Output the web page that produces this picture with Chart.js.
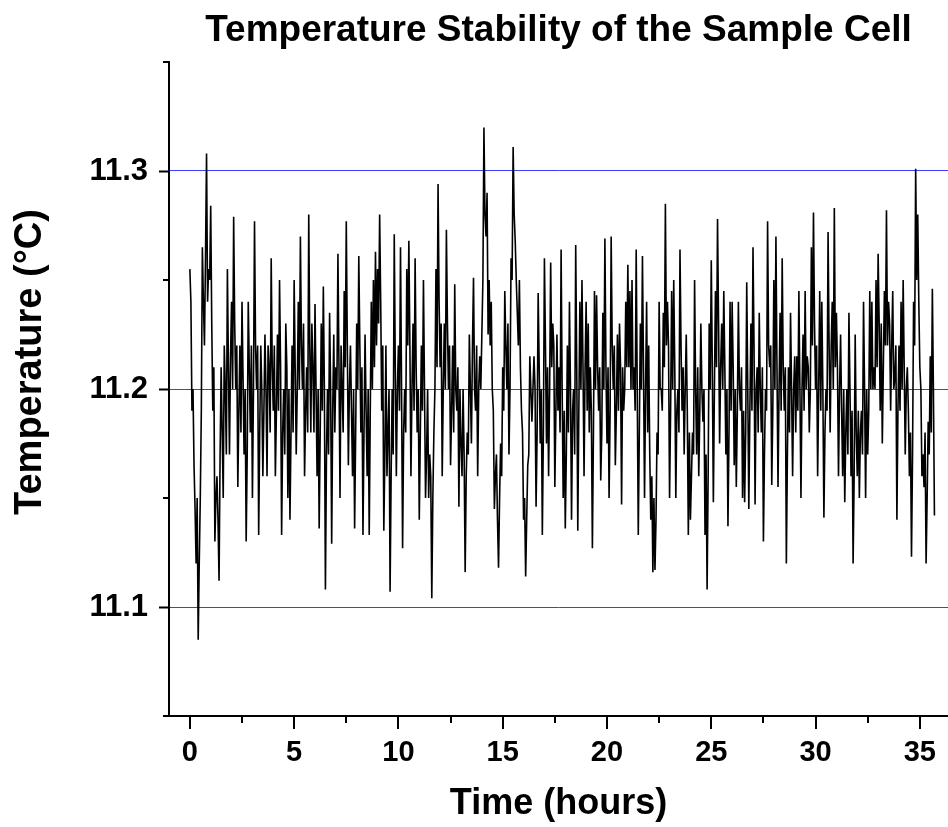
<!DOCTYPE html>
<html>
<head>
<meta charset="utf-8">
<script src="https://cdn.jsdelivr.net/npm/chart.js@4/dist/chart.umd.min.js"></script>
<style>
  html, body { margin: 0; padding: 0; background: #ffffff; }
  #wrap { width: 948px; height: 827px; }
</style>
</head>
<body>
<div id="wrap"><canvas id="c" width="948" height="827"></canvas></div>
<script>
// ---------- data ----------
const chartTitle = 'Temperature Stability of the Sample Cell';
const xTitle = 'Time (hours)';
const yTitle = 'Temperature (°C)';

const sampleStartHours = 0;
const sampleIntervalHours = 0.05;

// readings at t = 0.0, 0.1, 0.2 ... h (°C)
const readingsOnTenths = [
  11.255, 11.19, 11.165, 11.12, 11.085, 11.15, 11.265, 11.22, 11.308, 11.255,
  11.284, 11.19, 11.13, 11.16, 11.112, 11.21, 11.15, 11.2, 11.255, 11.17,
  11.24, 11.279, 11.2, 11.155, 11.22, 11.24, 11.17, 11.13, 11.24, 11.18,
  11.15, 11.277, 11.2, 11.133, 11.22, 11.16, 11.225, 11.16, 11.21, 11.26,
  11.19, 11.16, 11.225, 11.25, 11.133, 11.2, 11.23, 11.15, 11.14, 11.22,
  11.25, 11.17, 11.24, 11.27, 11.2, 11.16, 11.21, 11.28,
  11.18, 11.21, 11.239, 11.16, 11.136, 11.23, 11.247, 11.108, 11.2, 11.235,
  11.129, 11.225, 11.21, 11.262, 11.15, 11.2, 11.245, 11.277, 11.165, 11.22,
  11.16, 11.136, 11.23, 11.261, 11.18, 11.133, 11.225, 11.16, 11.133, 11.24,
  11.25, 11.263, 11.255, 11.28, 11.19, 11.135, 11.22, 11.18, 11.107, 11.2,
  11.271, 11.16, 11.22, 11.265, 11.127, 11.2, 11.255, 11.268, 11.16, 11.23,
  11.26, 11.18, 11.14, 11.22, 11.25, 11.15, 11.2, 11.17, 11.104, 11.18,
  11.255, 11.294, 11.21, 11.16, 11.23, 11.273, 11.2, 11.165, 11.22, 11.248,
  11.19, 11.146, 11.175, 11.2, 11.116, 11.18, 11.225, 11.175, 11.251, 11.19,
  11.16, 11.215, 11.225, 11.32, 11.27, 11.225, 11.22, 11.2, 11.145, 11.17,
  11.118, 11.175, 11.21, 11.245, 11.2, 11.17, 11.26, 11.311, 11.268, 11.235,
  11.25, 11.19, 11.14, 11.114, 11.165, 11.215, 11.185, 11.215, 11.146, 11.244,
  11.175, 11.133, 11.26, 11.175, 11.16, 11.258, 11.23, 11.155, 11.225, 11.21,
  11.264, 11.15, 11.136, 11.22, 11.24, 11.14, 11.2, 11.266, 11.135, 11.24,
  11.25, 11.16, 11.24, 11.23, 11.21, 11.127, 11.245, 11.243, 11.19, 11.158,
  11.235, 11.269, 11.175, 11.15, 11.27, 11.2, 11.165, 11.225, 11.23, 11.147,
  11.19, 11.24, 11.257, 11.245, 11.25, 11.21, 11.264, 11.133, 11.23, 11.261,
  11.15, 11.24, 11.22, 11.14, 11.116, 11.117, 11.18, 11.24, 11.2, 11.235,
  11.285, 11.24, 11.15, 11.245, 11.25, 11.15, 11.2, 11.264, 11.19, 11.17,
  11.225, 11.133, 11.14, 11.18, 11.25, 11.17, 11.16, 11.23, 11.185, 11.133,
  11.108, 11.23, 11.259, 11.148, 11.245, 11.278, 11.175, 11.23, 11.245, 11.17,
  11.137, 11.24, 11.24, 11.165, 11.155, 11.24, 11.19, 11.15, 11.148, 11.249,
  11.145, 11.23, 11.265, 11.147, 11.21, 11.235, 11.18, 11.13, 11.2, 11.277,
  11.21, 11.156, 11.25, 11.27, 11.155, 11.235, 11.26, 11.19, 11.12, 11.21,
  11.235, 11.16, 11.215, 11.215, 11.245, 11.15, 11.225, 11.245, 11.215, 11.18,
  11.265, 11.281, 11.2, 11.16, 11.245, 11.24, 11.141, 11.2, 11.272, 11.18,
  11.24, 11.283, 11.235, 11.16, 11.225, 11.16, 11.148, 11.2, 11.235, 11.16,
  11.12, 11.225, 11.16, 11.15, 11.19, 11.24, 11.15, 11.17, 11.245, 11.24,
  11.21, 11.25, 11.262, 11.19, 11.175, 11.245, 11.282, 11.24, 11.19, 11.245,
  11.205, 11.14, 11.22, 11.24, 11.25, 11.17, 11.21, 11.16, 11.123, 11.24,
  11.301, 11.28, 11.21, 11.16, 11.155, 11.12, 11.185, 11.215, 11.246, 11.142
];

// readings at t = 0.05, 0.15, 0.25 ... h (°C)
const readingsBetween = [
  11.24, 11.2, 11.145, 11.15, 11.12, 11.19, 11.24, 11.26, 11.24, 11.25,
  11.23, 11.21, 11.15, 11.14, 11.17, 11.18, 11.22, 11.17, 11.21, 11.215,
  11.2, 11.23, 11.22, 11.19, 11.18, 11.205, 11.2, 11.17, 11.21, 11.22,
  11.2, 11.22, 11.22, 11.18, 11.2, 11.19, 11.2, 11.22, 11.18, 11.21,
  11.22, 11.19, 11.19, 11.21, 11.18, 11.17, 11.21, 11.2, 11.18, 11.18,
  11.21, 11.2, 11.2, 11.22, 11.23, 11.19, 11.18, 11.22,
  11.23, 11.18, 11.2, 11.2, 11.18, 11.19, 11.2, 11.17, 11.17, 11.2,
  11.19, 11.18, 11.2, 11.21, 11.22, 11.18, 11.21, 11.22, 11.2, 11.19,
  11.2, 11.18, 11.2, 11.22, 11.21, 11.18, 11.19, 11.2, 11.19, 11.2,
  11.21, 11.22, 11.23, 11.24, 11.22, 11.17, 11.16, 11.2, 11.16, 11.17,
  11.21, 11.2, 11.19, 11.2, 11.18, 11.18, 11.22, 11.22, 11.2, 11.19,
  11.21, 11.2, 11.18, 11.19, 11.2, 11.17, 11.15, 11.16, 11.15, 11.2,
  11.21, 11.24, 11.23, 11.2, 11.2, 11.23, 11.22, 11.19, 11.18, 11.2,
  11.21, 11.2, 11.16, 11.17, 11.16, 11.17, 11.2, 11.22, 11.2, 11.22,
  11.2, 11.2, 11.25, 11.28, 11.29, 11.25, 11.24, 11.19, 11.16, 11.14,
  11.15, 11.16, 11.19, 11.22, 11.23, 11.2, 11.25, 11.28, 11.25, 11.22,
  11.21, 11.18, 11.15, 11.14, 11.17, 11.2, 11.2, 11.2, 11.18, 11.21,
  11.2, 11.18, 11.22, 11.21, 11.2, 11.21, 11.22, 11.19, 11.19, 11.18,
  11.2, 11.19, 11.17, 11.18, 11.2, 11.19, 11.17, 11.21, 11.19, 11.2,
  11.21, 11.21, 11.19, 11.18, 11.19, 11.18, 11.2, 11.21, 11.21, 11.18,
  11.2, 11.21, 11.21, 11.19, 11.22, 11.22, 11.19, 11.19, 11.21, 11.21,
  11.2, 11.21, 11.21, 11.2, 11.2, 11.19, 11.2, 11.18, 11.2, 11.21,
  11.2, 11.18, 11.17, 11.16, 11.15, 11.14, 11.17, 11.2, 11.19, 11.21,
  11.22, 11.22, 11.19, 11.2, 11.21, 11.19, 11.18, 11.22, 11.21, 11.2,
  11.19, 11.18, 11.16, 11.17, 11.2, 11.21, 11.19, 11.2, 11.2, 11.17,
  11.16, 11.2, 11.21, 11.2, 11.21, 11.23, 11.21, 11.2, 11.21, 11.2,
  11.18, 11.19, 11.21, 11.2, 11.19, 11.2, 11.21, 11.19, 11.18, 11.2,
  11.19, 11.19, 11.22, 11.2, 11.18, 11.2, 11.21, 11.17, 11.19, 11.22,
  11.22, 11.19, 11.2, 11.21, 11.2, 11.19, 11.21, 11.21, 11.17, 11.18,
  11.2, 11.2, 11.18, 11.19, 11.2, 11.2, 11.19, 11.2, 11.21, 11.2,
  11.22, 11.23, 11.22, 11.2, 11.19, 11.2, 11.18, 11.19, 11.22, 11.22,
  11.2, 11.21, 11.21, 11.2, 11.19, 11.2, 11.18, 11.17, 11.2, 11.19,
  11.16, 11.18, 11.19, 11.18, 11.17, 11.2, 11.2, 11.19, 11.2, 11.2,
  11.2, 11.21, 11.23, 11.23, 11.21, 11.22, 11.22, 11.23, 11.22, 11.2,
  11.22, 11.19, 11.19, 11.2, 11.21, 11.2, 11.19, 11.18, 11.17, 11.22,
  11.25, 11.24, 11.2, 11.17, 11.18, 11.15, 11.17, 11.18, 11.2
];

const xTickValues = [0, 5, 10, 15, 20, 25, 30, 35];
const xMinorTickValues = [2.5, 7.5, 12.5, 17.5, 22.5, 27.5, 32.5];
const yTickValues = [11.1, 11.2, 11.3];
const yMinorTickValues = [11.05, 11.15, 11.25, 11.35];
const xRange = [-1, 36.35];
const yRange = [11.05, 11.35];

// ---------- chart ----------
const readings = [];
readingsOnTenths.forEach((v, i) => {
  readings.push(v);
  if (i < readingsBetween.length) readings.push(readingsBetween[i]);
});
const points = readings.map((v, i) => ({ x: sampleStartHours + i * sampleIntervalHours, y: v }));

const FONT = "'Liberation Sans', Arial, sans-serif";
const GRID_BLUE = '#3c3cff';

const decor = {
  id: 'decor',
  afterDraw(chart) {
    const { ctx, chartArea: ca, scales: { x, y } } = chart;
    ctx.save();
    ctx.strokeStyle = '#000';
    ctx.lineWidth = 2;
    const majorLen = 10, minorLen = 6;
    const hline = (x0, x1, py) => { ctx.beginPath(); ctx.moveTo(x0, py); ctx.lineTo(x1, py); ctx.stroke(); };
    const vline = (px, y0, y1) => { ctx.beginPath(); ctx.moveTo(px, y0); ctx.lineTo(px, y1); ctx.stroke(); };
    yTickValues.forEach(v => hline(ca.left - majorLen, ca.left, Math.round(y.getPixelForValue(v)) + 0.5));
    yMinorTickValues.forEach(v => hline(ca.left - minorLen, ca.left, Math.round(y.getPixelForValue(v))));
    xTickValues.forEach(v => vline(Math.round(x.getPixelForValue(v)), ca.bottom, ca.bottom + majorLen + 3));
    xMinorTickValues.forEach(v => vline(Math.round(x.getPixelForValue(v)), ca.bottom, ca.bottom + minorLen + 1));
    vline(ca.left, ca.top - 1, ca.bottom + 1);
    hline(ca.left - 1, ca.right, ca.bottom);

    ctx.fillStyle = '#000';
    ctx.textAlign = 'center';
    ctx.textBaseline = 'middle';
    ctx.font = "bold 37px " + FONT;
    ctx.fillText(chartTitle, (ca.left + ca.right) / 2, 31);
    ctx.font = "bold 38px " + FONT;
    ctx.save();
    ctx.translate(31, 362);
    ctx.rotate(-Math.PI / 2);
    ctx.fillText(yTitle, 0, 0);
    ctx.restore();
    ctx.restore();
  }
};

new Chart(document.getElementById('c'), {
  type: 'line',
  data: {
    datasets: [{
      data: points,
      borderColor: '#000000',
      borderWidth: 1.6,
      pointRadius: 0,
      tension: 0,
      fill: false
    }]
  },
  options: {
    responsive: false,
    animation: false,
    devicePixelRatio: 1,
    layout: { padding: { top: 62, right: 0, left: 0, bottom: 0 } },
    plugins: { legend: { display: false }, title: { display: false }, tooltip: { enabled: false } },
    scales: {
      x: {
        type: 'linear',
        min: xRange[0], max: xRange[1],
        afterFit(s) { s.height = 111; s.paddingLeft = 0; s.paddingRight = 0; },
        afterBuildTicks(s) { s.ticks = xTickValues.map(v => ({ value: v })); },
        grid: { display: false, drawTicks: false },
        border: { display: false },
        ticks: {
          color: '#000', padding: 20, maxRotation: 0, autoSkip: false,
          font: { family: FONT, size: 29, weight: 'bold' },
          callback: v => String(v)
        },
        title: {
          display: true, text: xTitle, color: '#000',
          font: { family: FONT, size: 36, weight: 'bold' },
          padding: { top: 0, bottom: 1 }
        }
      },
      y: {
        type: 'linear',
        min: yRange[0], max: yRange[1],
        afterFit(s) { s.width = 169; s.paddingTop = 0; s.paddingBottom = 0; },
        afterBuildTicks(s) { s.ticks = yTickValues.map(v => ({ value: v })); },
        grid: { display: true, drawTicks: false, color: GRID_BLUE, lineWidth: 1 },
        border: { display: false },
        ticks: {
          color: '#000', padding: 21, autoSkip: false,
          font: { family: FONT, size: 31, weight: 'bold' },
          callback: v => v.toFixed(1)
        }
      }
    }
  },
  plugins: [decor]
});
</script>
</body>
</html>
